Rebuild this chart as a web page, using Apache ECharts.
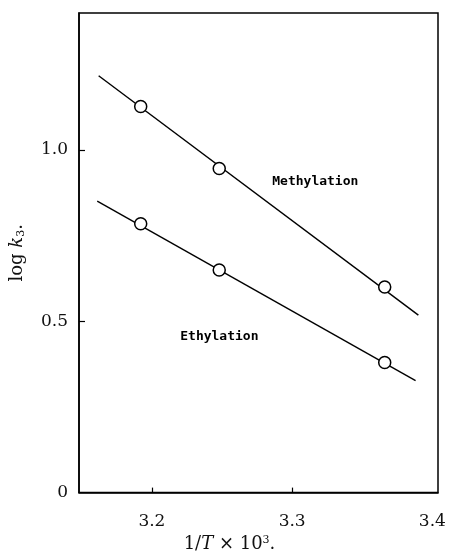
<!DOCTYPE html>
<html>
<head>
<meta charset="utf-8">
<script src="https://cdn.jsdelivr.net/npm/echarts@6/dist/echarts.min.js"></script>
<style>
html,body{margin:0;padding:0;background:#fff;}
#chart{width:450px;height:558px;}
</style>
</head>
<body>
<div id="chart"></div>
<script>
// Data
const xTickValues = [3.2, 3.3];
const xLabelValues = [3.2, 3.3, 3.4];
const yTickValues = [0.5, 1.0];
const yLabelValues = [0, 0.5, 1.0];

const invT = [3.192, 3.248, 3.366];          // 1/T x 10^3
const methylation = [1.127, 0.946, 0.600];   // log k3
const ethylation = [0.785, 0.650, 0.380];    // log k3

const methylFitX = [3.162, 3.390];
const methylFitY = [1.217, 0.518];
const ethylFitX = [3.161, 3.388];
const ethylFitY = [0.851, 0.327];

const seriesLabels = ['Methylation', 'Ethylation'];
const labelX = [3.3165, 3.2481];
const labelY = [0.908, 0.454];

const pairs = (xs, ys) => xs.map((x, i) => [x, ys[i]]);

const chart = echarts.init(document.getElementById('chart'), null, {renderer: 'canvas'});

const serif = '"DejaVu Serif", "Liberation Serif", serif';

const option = {
  animation: false,
  backgroundColor: '#fff',
  grid: {
    left: 79, right: 12, top: 13, bottom: 64,
    show: true, borderColor: '#000', borderWidth: 1.5, backgroundColor: 'transparent'
  },
  xAxis: {
    type: 'value',
    min: 3.148, max: 3.404,
    axisLine: {show: true, onZero: false, lineStyle: {color: '#000', width: 1.5}},
    axisTick: {show: true, inside: true, length: 5, customValues: xTickValues, lineStyle: {color: '#000', width: 1.2}},
    axisLabel: {
      customValues: xLabelValues, margin: 20,
      formatter: v => v.toFixed(1),
      fontFamily: serif, fontSize: 17, color: '#111'
    },
    splitLine: {show: false},
    name: '{n|1/}{i|T}{n| × 10}{sup|3}{n|.}',
    nameLocation: 'middle',
    nameGap: 37,
    nameTextStyle: {
      padding: [0, 58, 0, 0],
      rich: {
        n: {fontFamily: serif, fontSize: 18, color: '#111'},
        i: {fontFamily: serif, fontSize: 18, fontStyle: 'italic', color: '#111'},
        sup: {fontFamily: serif, fontSize: 11, color: '#111', padding: [0, 0, 8, 0]}
      }
    }
  },
  yAxis: {
    type: 'value',
    min: 0, max: 1.4,
    axisLine: {show: true, onZero: false, lineStyle: {color: '#000', width: 1.5}},
    axisTick: {show: true, inside: true, length: 6, customValues: yTickValues, lineStyle: {color: '#000', width: 1.2}},
    axisLabel: {
      customValues: yLabelValues, margin: 11,
      formatter: v => (v === 0 ? '0' : v.toFixed(1)),
      fontFamily: serif, fontSize: 17, color: '#111'
    },
    splitLine: {show: false},
    name: '{n|log }{i|k}{sub|3}{n|.}',
    nameLocation: 'middle',
    nameRotate: 90,
    nameGap: 52,
    nameTextStyle: {
      rich: {
        n: {fontFamily: serif, fontSize: 18, color: '#111'},
        i: {fontFamily: serif, fontSize: 18, fontStyle: 'italic', color: '#111'},
        sub: {fontFamily: serif, fontSize: 11, color: '#111', padding: [8, 0, 0, 0]}
      }
    }
  },
  series: [
    {
      name: 'Methylation fit', type: 'line', data: pairs(methylFitX, methylFitY),
      symbol: 'none', lineStyle: {color: '#000', width: 1.4}, z: 2, silent: true
    },
    {
      name: 'Ethylation fit', type: 'line', data: pairs(ethylFitX, ethylFitY),
      symbol: 'none', lineStyle: {color: '#000', width: 1.4}, z: 2, silent: true
    },
    {
      name: 'Methylation', type: 'scatter', data: pairs(invT, methylation),
      symbol: 'circle', symbolSize: 12,
      itemStyle: {color: '#fff', borderColor: '#000', borderWidth: 1.5, opacity: 1}, z: 3
    },
    {
      name: 'Ethylation', type: 'scatter', data: pairs(invT, ethylation),
      symbol: 'circle', symbolSize: 12,
      itemStyle: {color: '#fff', borderColor: '#000', borderWidth: 1.5, opacity: 1}, z: 3
    }
  ]
};

chart.setOption(option);

const graphics = seriesLabels.map((txt, i) => {
  const p = chart.convertToPixel({gridIndex: 0}, [labelX[i], labelY[i]]);
  return {
    type: 'text', x: p[0], y: p[1], z: 10,
    style: {
      text: txt, fill: '#000',
      font: 'bold 13px "DejaVu Sans Mono", monospace',
      align: 'center', verticalAlign: 'middle'
    }
  };
});
chart.setOption({graphic: graphics});
</script>
</body>
</html>
